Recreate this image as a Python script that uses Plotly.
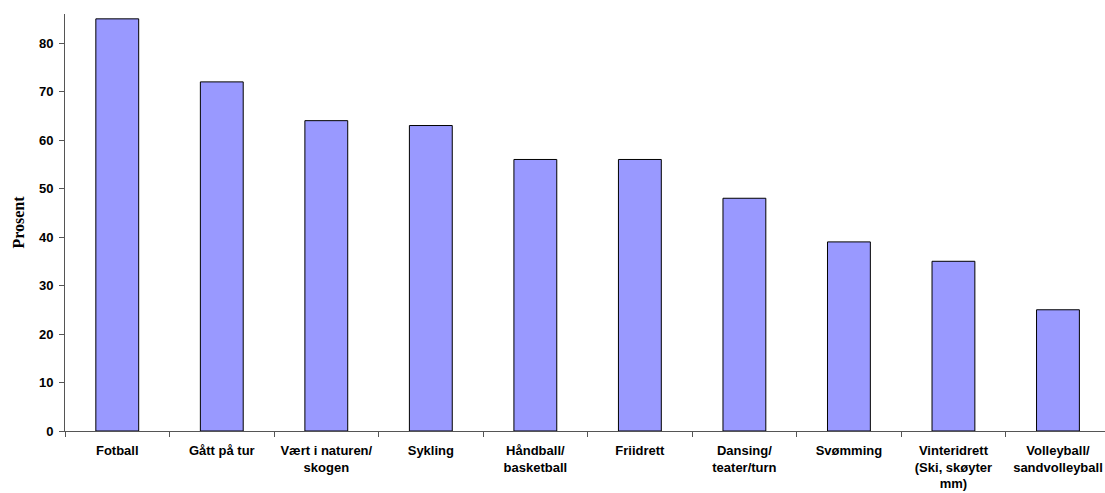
import plotly.graph_objects as go

# Share of respondents (%) per activity
categories = [
    "Fotball",
    "Gått på tur",
    "Vært i naturen/<br>skogen",
    "Sykling",
    "Håndball/<br>basketball",
    "Friidrett",
    "Dansing/<br>teater/turn",
    "Svømming",
    "Vinteridrett<br>(Ski, skøyter<br>mm)",
    "Volleyball/<br>sandvolleyball",
]
values = [85, 72, 64, 63, 56, 56, 48, 39, 35, 25]
y_ticks = [0, 10, 20, 30, 40, 50, 60, 70, 80]

fig = go.Figure(
    go.Bar(
        x=categories,
        y=values,
        width=0.41,
        marker=dict(color="#9999FF", line=dict(color="#000000", width=1)),
    )
)

fig.update_layout(
    width=1105,
    height=493,
    margin=dict(l=65, r=0, t=14, b=62),
    paper_bgcolor="white",
    plot_bgcolor="white",
    showlegend=False,
    font=dict(family="Arial, Liberation Sans, sans-serif", size=12, color="#000000"),
)

fig.update_xaxes(
    range=[-0.5, 9.45],
    showgrid=False,
    showline=True,
    linecolor="#555555",
    linewidth=1,
    ticks="outside",
    tickson="boundaries",
    ticklen=5,
    tickcolor="#555555",
    ticklabelstandoff=7,
    tickfont=dict(family="Arial, Liberation Sans, sans-serif", size=13, color="#000000", weight="bold"),
)

fig.update_yaxes(
    range=[0, 86],
    tickvals=y_ticks,
    showgrid=False,
    zeroline=False,
    showline=True,
    linecolor="#555555",
    linewidth=1,
    ticks="outside",
    ticklen=5,
    tickcolor="#555555",
    ticklabelstandoff=3,
    tickfont=dict(family="Arial, Liberation Sans, sans-serif", size=13, color="#000000", weight="bold"),
    title=dict(
        text="Prosent",
        font=dict(family="Times New Roman, Liberation Serif, serif", size=16, color="#000000", weight="bold"),
        standoff=10,
    ),
)

fig.write_html("out.html")
